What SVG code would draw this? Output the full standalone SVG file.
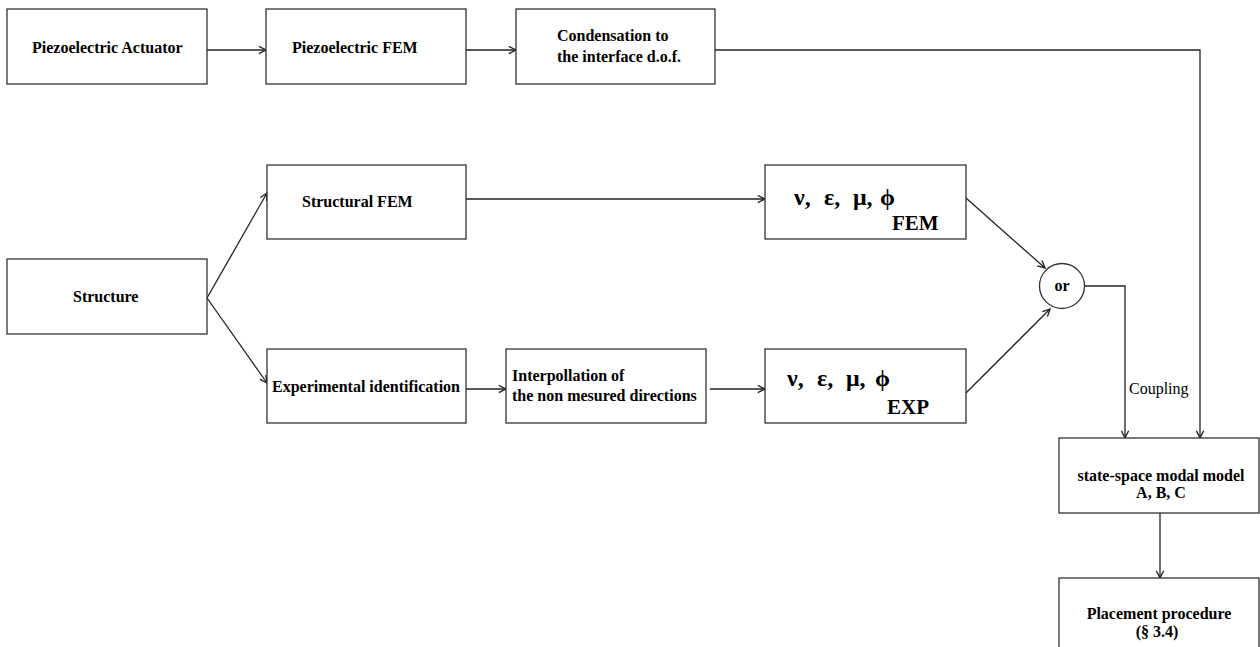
<svg xmlns="http://www.w3.org/2000/svg" width="1260" height="647" viewBox="0 0 1260 647">
<defs>
<style>
.box{fill:#fff;stroke:#333;stroke-width:1.3}
.c{fill:none;stroke:#222;stroke-width:1.3}
.t{font-family:"Liberation Serif","Times New Roman",serif;font-size:16px;font-weight:bold;fill:#000}
.r{font-family:"Liberation Serif","Times New Roman",serif;font-size:16px;fill:#000}
.g{font-family:"Liberation Serif","Times New Roman",serif;font-size:24px;font-weight:bold;fill:#000}
.s{font-family:"Liberation Serif","Times New Roman",serif;font-size:21px;font-weight:bold;fill:#000}
</style>
<marker id="arr" viewBox="0 0 10 10" refX="9" refY="5" markerWidth="9" markerHeight="9" markerUnits="userSpaceOnUse" orient="auto">
<path d="M1,1 L9,5 L1,9" fill="none" stroke="#222" stroke-width="1.5"/>
</marker>
</defs>
<rect width="1260" height="647" fill="#fff"/>

<g id="connectors">
<line class="c" x1="207" y1="50" x2="266" y2="50" marker-end="url(#arr)"/>
<line class="c" x1="466" y1="50" x2="516" y2="50" marker-end="url(#arr)"/>
<polyline class="c" points="715,50 1200,50 1200,438" marker-end="url(#arr)"/>
<line class="c" x1="207" y1="298" x2="267" y2="193" marker-end="url(#arr)"/>
<line class="c" x1="207" y1="298" x2="267" y2="383" marker-end="url(#arr)"/>
<line class="c" x1="466" y1="199" x2="765" y2="199" marker-end="url(#arr)"/>
<line class="c" x1="466" y1="389" x2="506" y2="389" marker-end="url(#arr)"/>
<line class="c" x1="710" y1="389" x2="765" y2="389" marker-end="url(#arr)"/>
<line class="c" x1="966" y1="198" x2="1045" y2="268" marker-end="url(#arr)"/>
<line class="c" x1="966" y1="393" x2="1050" y2="309" marker-end="url(#arr)"/>
<polyline class="c" points="1084,286 1125,286 1125,438" marker-end="url(#arr)"/>
<line class="c" x1="1160" y1="513" x2="1160" y2="578" marker-end="url(#arr)"/>
<text class="r" x="1129" y="394">Coupling</text>
</g>

<g id="piezo-actuator">
<rect class="box" x="7" y="9" width="200" height="75"/>
<text class="t" x="32" y="53">Piezoelectric Actuator</text>
</g>
<g id="piezo-fem">
<rect class="box" x="266" y="9" width="200" height="75"/>
<text class="t" x="292" y="53">Piezoelectric FEM</text>
</g>
<g id="condensation">
<rect class="box" x="516" y="9" width="199" height="75"/>
<text class="t" x="557" y="41">Condensation to</text>
<text class="t" x="557" y="62">the interface d.o.f.</text>
</g>
<g id="structure">
<rect class="box" x="7" y="259" width="200" height="75"/>
<text class="t" x="73" y="302">Structure</text>
</g>
<g id="structural-fem">
<rect class="box" x="267" y="165" width="199" height="74"/>
<text class="t" x="302" y="207">Structural FEM</text>
</g>
<g id="experimental">
<rect class="box" x="267" y="349" width="199" height="74"/>
<text class="t" x="272" y="392">Experimental identification</text>
</g>
<g id="interpolation">
<rect class="box" x="506" y="349" width="200" height="74"/>
<text class="t" x="512" y="381">Interpollation of</text>
<text class="t" x="512" y="401">the non mesured directions</text>
</g>
<g id="params-fem">
<rect class="box" x="765" y="165" width="201" height="74"/>
<text class="g" y="205"><tspan x="794">ν,</tspan><tspan x="824">ε,</tspan><tspan x="853">μ,</tspan><tspan x="880">ϕ</tspan></text>
<text class="s" x="892" y="230">FEM</text>
</g>
<g id="params-exp">
<rect class="box" x="765" y="349" width="201" height="74"/>
<text class="g" y="386"><tspan x="787">ν,</tspan><tspan x="817">ε,</tspan><tspan x="846">μ,</tspan><tspan x="875">ϕ</tspan></text>
<text class="s" x="887" y="414">EXP</text>
</g>
<g id="or">
<circle class="box" cx="1062" cy="286" r="22.5"/>
<text class="t" x="1062" y="291" text-anchor="middle">or</text>
</g>
<g id="state-space">
<rect class="box" x="1059" y="438" width="200" height="75"/>
<text class="t" x="1161" y="481" text-anchor="middle">state-space modal model</text>
<text class="t" x="1161" y="498" text-anchor="middle">A, B, C</text>
</g>
<g id="placement">
<rect class="box" x="1059" y="578" width="200" height="80"/>
<text class="t" x="1159" y="619" text-anchor="middle">Placement procedure</text>
<text class="t" x="1157" y="637" text-anchor="middle">(§ 3.4)</text>
</g>
</svg>
